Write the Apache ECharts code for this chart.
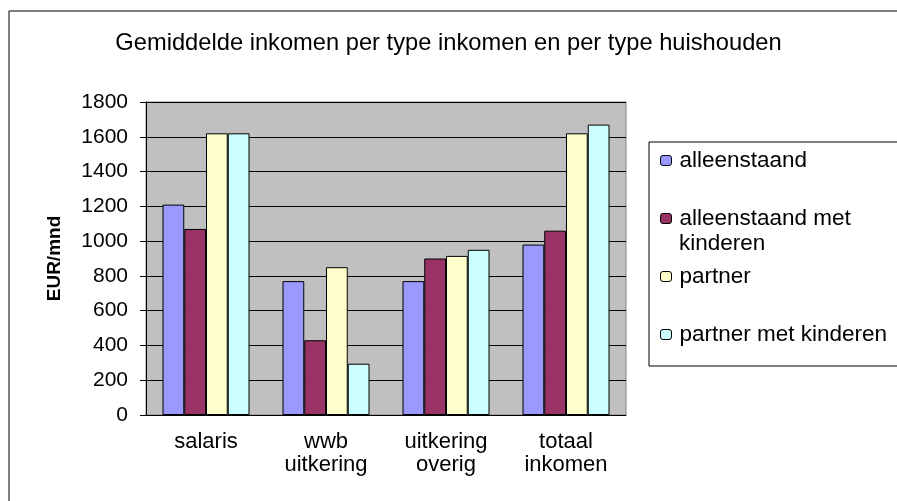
<!DOCTYPE html>
<html>
<head>
<meta charset="utf-8">
<script src="https://cdn.jsdelivr.net/npm/echarts@6/dist/echarts.min.js"></script>
<style>
  html, body { margin: 0; padding: 0; background: #fff; }
  #chart { width: 897px; height: 501px; }
</style>
</head>
<body>
<div id="chart"></div>
<script>
const categories = ['salaris', 'wwb\nuitkering', 'uitkering\noverig', 'totaal\ninkomen']
const seriesNames = ['alleenstaand', 'alleenstaand met kinderen', 'partner', 'partner met kinderen']
const alleenstaand = [1210, 770, 770, 980]
const alleenstaandMetKinderen = [1070, 430, 900, 1060]
const partner = [1620, 850, 915, 1620]
const partnerMetKinderen = [1620, 295, 950, 1670]
const colors = ['#9999FF', '#993366', '#FFFFCC', '#CCFFFF']
const values = [alleenstaand, alleenstaandMetKinderen, partner, partnerMetKinderen]

const font = '"Liberation Sans", Arial, sans-serif'
const chart = echarts.init(document.getElementById('chart'))

// legend rows placed one by one, like Excel spreads them
const legendTops = [149, 207, 265, 323]
const legends = seriesNames.map((name, i) => ({
  data: [name],
  left: 660,
  top: legendTops[i],
  padding: 0,
  itemWidth: 11,
  itemHeight: 10,
  itemStyle: { borderColor: '#000', borderWidth: 1 },
  formatter: (n) => n === 'alleenstaand met kinderen' ? 'alleenstaand met' : n,
  textStyle: { fontFamily: font, fontSize: 22.5, color: '#000', lineHeight: 22, padding: [0, 0, 0, 3] }
}))

const options = {
  animation: false,
  title: {
    text: 'Gemiddelde inkomen per type inkomen en per type huishouden',
    left: 'center',
    top: 26,
    textStyle: { fontFamily: font, fontSize: 23.7, fontWeight: 'normal', color: '#000' }
  },
  legend: legends,
  grid: {
    left: 146,
    right: 271,
    top: 102,
    bottom: 86,
    show: true,
    backgroundColor: '#C0C0C0',
    borderColor: '#808080',
    borderWidth: 1
  },
  xAxis: {
    type: 'category',
    data: categories,
    axisLine: { lineStyle: { color: '#000' } },
    axisTick: { length: 6, lineStyle: { color: '#000' } },
    axisLabel: {
      fontFamily: font, fontSize: 22, color: '#000', lineHeight: 23, margin: 15,
      interval: 0
    }
  },
  yAxis: {
    type: 'value',
    min: 0,
    max: 1800,
    interval: 200,
    name: 'EUR/mnd',
    nameLocation: 'middle',
    nameGap: 82,
    nameTextStyle: { fontFamily: font, fontSize: 19, fontWeight: 'bold', color: '#000' },
    axisLine: { show: true, lineStyle: { color: '#000' } },
    axisTick: { show: true, length: 6, lineStyle: { color: '#000' } },
    axisLabel: {
      fontFamily: font, fontSize: 21, color: '#000', margin: 18,
      formatter: (v) => String(v)
    },
    splitLine: { lineStyle: { color: '#000', width: 1 } }
  },
  graphic: [
    {
      type: 'rect',
      z: -10,
      shape: { x: 9, y: 11, width: 1000, height: 1000 },
      style: { fill: 'none', stroke: '#000', lineWidth: 1 }
    },
    {
      type: 'rect',
      z: -5,
      shape: { x: 649, y: 142, width: 300, height: 224 },
      style: { fill: '#fff', stroke: '#000', lineWidth: 1 }
    },
    {
      type: 'text',
      style: {
        text: 'kinderen', x: 679, y: 244, verticalAlign: 'middle',
        font: '22.5px ' + font, fill: '#000'
      }
    }
  ],
  series: seriesNames.map((name, i) => ({
    name,
    type: 'bar',
    data: values[i],
    barGap: '0%',
    barCategoryGap: '27.5%',
    itemStyle: { color: colors[i], borderColor: '#000', borderWidth: 1 }
  }))
}
chart.setOption(options)
</script>
</body>
</html>
